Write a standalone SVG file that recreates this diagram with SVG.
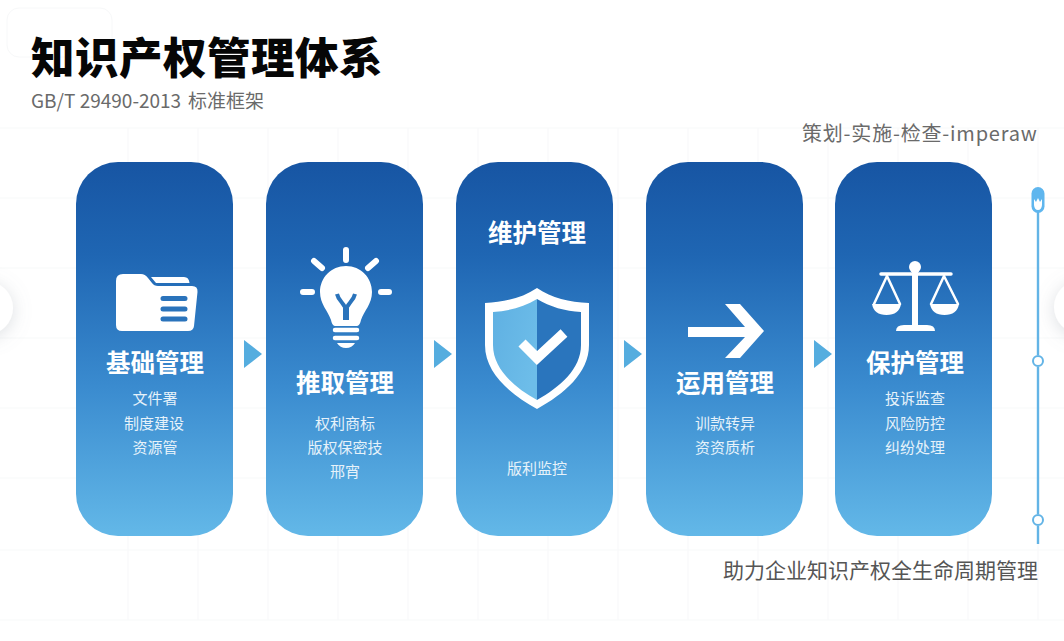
<svg xmlns="http://www.w3.org/2000/svg" width="1064" height="641" viewBox="0 0 1064 641">
<style>
.cjk{font-family:"Noto Sans CJK SC","Liberation Sans",sans-serif}
.card{fill:url(#cardGrad)}
.t{font-size:24.5px;font-weight:700;fill:#fff;text-anchor:middle}
.s{font-size:15px;fill:#e6f2fa;text-anchor:middle}
.w{fill:#fff}
.ws{stroke:#fff;fill:none;stroke-linecap:round}
.grid{stroke:#f8f9fa;stroke-width:1.2}
.arrow{fill:#55addf}
.tl{stroke:#63b4e6;stroke-width:2.4;fill:none}
</style>
<defs>
<linearGradient id="cardGrad" x1="0" y1="0" x2="0" y2="1">
<stop offset="0" stop-color="#1755a3"/><stop offset="0.25" stop-color="#1f66b3"/><stop offset="0.6" stop-color="#3a8bcf"/><stop offset="1" stop-color="#63b8e8"/>
</linearGradient>
<linearGradient id="shieldL" x1="0" y1="0" x2="1" y2="0.6"><stop offset="0" stop-color="#5fb0e2"/><stop offset="1" stop-color="#6dbde9"/></linearGradient>
<filter id="soft" x="-60%" y="-60%" width="220%" height="220%"><feDropShadow dx="0" dy="3" stdDeviation="9" flood-color="#8a94a0" flood-opacity="0.3"/></filter>
</defs>
<rect width="1064" height="641" fill="#fff"/>
<g id="grid">
<path class="grid" d="M0 128H1064M0 198H1064M0 268H1064M0 338H1064M0 408H1064M0 478H1064M0 550H1064M0 620H1064"/>
<path class="grid" d="M128 128V620M198 128V620M268 128V620M338 128V620M408 128V620M478 128V620M548 128V620M618 128V620M688 128V620M758 128V620M828 128V620M898 128V620M968 128V620M1038 128V620"/>
</g>
<circle cx="-14" cy="308" r="27" fill="#fff" filter="url(#soft)"/>
<circle cx="1081" cy="307" r="27" fill="#fff" filter="url(#soft)"/>
<rect x="7" y="8" width="105" height="49" rx="12" fill="#fff" stroke="#f7f8f9"/>
<g id="header">
<text class="cjk" x="31" y="74" font-size="43.500" font-weight="900" fill="#060606" letter-spacing="0.5">知识产权管理体系</text>
<text class="cjk" y="108" font-size="19" fill="#6a6a6a"><tspan x="31">GB/T 29490-2013</tspan><tspan x="188">标准框架</tspan></text>
<text class="cjk" x="802" y="141" font-size="20" fill="#6a6a6a" letter-spacing="0.800">策划-实施-检查-imperaw</text>
<text class="cjk" x="723" y="578" font-size="21" fill="#555">助力企业知识产权全生命周期管理</text>
</g>
<g id="connectors">
<path class="arrow" d="M244 340L262 354L244 368Z"/>
<path class="arrow" d="M434 340L452 354L434 368Z"/>
<path class="arrow" d="M624 340L642 354L624 368Z"/>
<path class="arrow" d="M814 340L832 354L814 368Z"/>
</g>
<g id="node-1">
<rect class="card" x="76" y="162" width="157" height="374" rx="42"/>
<path class="w" d="M116 281Q116 274 123 274H141Q145 274 148 278L152 283Q154 286 158 286H192Q198 286 197.500 292L194 326Q193.500 331 188 331H122Q116 331 116 325Z"/>
<path class="w" d="M151 277H184Q189 277 189.500 283H156Z"/>
<path d="M163 298.500H185M163 309H185M163 319H185" stroke="#2a73bb" stroke-width="5" stroke-linecap="round" fill="none"/>
<text class="cjk t" x="155" y="372">基础管理</text>
<text class="cjk s" x="155" y="404">文件署</text>
<text class="cjk s" x="154" y="429">制度建设</text>
<text class="cjk s" x="155" y="453">资源管</text>
</g>
<g id="node-2">
<rect class="card" x="266" y="162" width="157" height="374" rx="42"/>
<path class="ws" stroke-width="6" d="M346 250V260M314 261L322 268M376 261L368 268M303 292H312M381 292H389"/>
<path class="w" d="M346 266C331 266 320 278 320 292C320 304 328 311 331 320C332 324 333 326 336 326H356C359 326 360 324 361 320C364 311 372 304 372 292C372 278 361 266 346 266Z"/>
<path d="M337 294C339 303 346 303 346 312M355 294C353 303 346 303 346 312" stroke="#2a73bb" stroke-width="4" fill="none"/>
<path d="M346 308V320" stroke="#2a73bb" stroke-width="6" fill="none"/>
<path class="ws" stroke-width="4.500" d="M335 330H357M335 338H357"/>
<path class="w" d="M337 343H355Q352 348 346 348Q340 348 337 343Z"/>
<text class="cjk t" x="345" y="392">推取管理</text>
<text class="cjk s" x="345" y="429">权利商标</text>
<text class="cjk s" x="345" y="453">版权保密技</text>
<text class="cjk s" x="345" y="477">邢宵</text>
</g>
<g id="node-3">
<rect class="card" x="456" y="162" width="157" height="374" rx="42"/>
<text class="cjk t" x="537" y="242">维护管理</text>
<path class="w" d="M537 288C522 298 505 302 485 303V345C485 373 510 394 537 409C564 394 589 373 589 345V303C569 302 552 298 537 288Z"/>
<path fill="url(#shieldL)" d="M537 299C524 307 509 311 493 312V345C493 369 514 387 537 400Z"/>
<path fill="#2a75bd" d="M537 299C550 307 565 311 581 312V345C581 369 560 387 537 400Z"/>
<path d="M522 343L537 358L564 333" stroke="#fff" stroke-width="10" fill="none"/>
<text class="cjk s" x="537" y="474">版利监控</text>
</g>
<g id="node-4">
<rect class="card" x="646" y="162" width="157" height="374" rx="42"/>
<path class="w" d="M688 327H745L725 304H740L764 331L740 358H725L745 337H688Z"/>
<text class="cjk t" x="725" y="392">运用管理</text>
<text class="cjk s" x="725" y="429">训款转异</text>
<text class="cjk s" x="725" y="453">资资质析</text>
</g>
<g id="node-5">
<rect class="card" x="835" y="162" width="157" height="374" rx="42"/>
<circle class="w" cx="915" cy="267" r="6"/>
<path class="w" d="M912 270H918V325H927Q935 325 935 331H896Q896 325 904 325H912Z"/>
<path class="ws" stroke-width="3.500" d="M881 274H951"/>
<path class="ws" stroke-width="2.500" d="M887 276L874 304M887 276L900 304M944 276L931 304M944 276L958 304"/>
<path class="w" d="M872 304H901Q899 315 886.500 315Q874 315 872 304ZM930 304H959Q957 315 944.500 315Q932 315 930 304Z"/>
<text class="cjk t" x="915" y="372">保护管理</text>
<text class="cjk s" x="915" y="404">投诉监查</text>
<text class="cjk s" x="915" y="429">风险防控</text>
<text class="cjk s" x="915" y="453">纠纷处理</text>
</g>
<g id="timeline">
<path class="tl" d="M1038 212V355M1038 367V514M1038 526V544"/>
<rect x="1031.500" y="187" width="13" height="26" rx="6.500" fill="#5fb6ee"/>
<path class="w" d="M1034 199L1036 202L1038 198L1040 202L1042 199V205Q1041.500 210 1038 210Q1034.500 210 1034 205Z"/>
<circle cx="1038" cy="361" r="5" fill="#fff" stroke="#63b4e6" stroke-width="2"/>
<circle cx="1038" cy="520" r="5" fill="#fff" stroke="#63b4e6" stroke-width="2"/>
</g>
</svg>
